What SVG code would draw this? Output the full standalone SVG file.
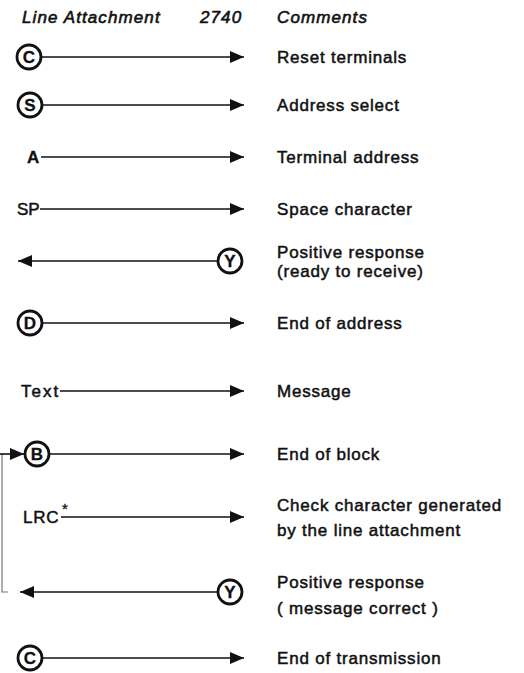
<svg xmlns="http://www.w3.org/2000/svg" width="524" height="673" viewBox="0 0 524 673">
  <defs>
    <marker id="arrow" viewBox="0 0 14 12" refX="14" refY="6" markerWidth="14" markerHeight="12" markerUnits="userSpaceOnUse" orient="auto">
      <path d="M0,0 L14,6 L0,12 Z" fill="#111"/>
    </marker>
    <style>
      text { font-family: "Liberation Sans", Arial, sans-serif; font-size: 17px; fill: #111; stroke: #111; stroke-width: 0.5; letter-spacing: 0.8px; }
      .hdr { font-style: italic; letter-spacing: 1.1px; stroke-width: 0.6; }
      .sym { font-weight: bold; text-anchor: middle; letter-spacing: 0; stroke-width: 0.3; font-size: 17px; }
      .ring { fill: #fff; stroke: #111; stroke-width: 2.8; }
      .flow { stroke: #111; stroke-width: 1.6; fill: none; marker-end: url(#arrow); }
      .loop { stroke: #777; stroke-width: 1.2; fill: none; }
    </style>
  </defs>

  <!-- column headings -->
  <g id="headings">
    <text class="hdr" x="22" y="23">Line Attachment</text>
    <text class="hdr" x="200" y="23">2740</text>
    <text class="hdr" x="277" y="23">Comments</text>
  </g>

  <!-- connectors -->
  <g id="connectors">
    <line class="flow" x1="42" y1="57" x2="244" y2="57"/>
    <line class="flow" x1="43" y1="105" x2="244" y2="105"/>
    <line class="flow" x1="41" y1="157" x2="244" y2="157"/>
    <line class="flow" x1="40" y1="209" x2="244" y2="209"/>
    <line class="flow" x1="217" y1="261" x2="18" y2="261"/>
    <line class="flow" x1="42" y1="323" x2="244" y2="323"/>
    <line class="flow" x1="60" y1="391" x2="244" y2="391"/>
    <line class="flow" x1="50" y1="454" x2="244" y2="454"/>
    <line class="flow" x1="61" y1="517" x2="244" y2="517"/>
    <line class="flow" x1="217" y1="592" x2="20" y2="592"/>
    <line class="flow" x1="42" y1="658" x2="244" y2="658"/>
    <!-- retransmission loop back to the block start -->
    <polyline class="loop" points="8,592 2,592 2,454"/>
    <line class="flow" x1="0" y1="454" x2="24" y2="454"/>
  </g>

  <g id="reset">
    <circle class="ring" cx="29" cy="57" r="12"/>
    <text class="sym" x="29" y="63">C</text>
    <text x="277" y="63">Reset terminals</text>
  </g>

  <g id="select">
    <circle class="ring" cx="30" cy="105" r="12"/>
    <text class="sym" x="30" y="111">S</text>
    <text x="277" y="111">Address select</text>
  </g>

  <g id="address">
    <text x="27" y="163" style="font-weight:bold;letter-spacing:0;stroke-width:0.3">A</text>
    <text x="277" y="163">Terminal address</text>
  </g>

  <g id="space">
    <text x="17" y="215" style="letter-spacing:0">SP</text>
    <text x="277" y="215">Space character</text>
  </g>

  <g id="ready">
    <circle class="ring" cx="230" cy="261" r="12"/>
    <text class="sym" x="230" y="267">Y</text>
    <text x="277" y="258">Positive response</text>
    <text x="277" y="277">(ready to receive)</text>
  </g>

  <g id="end-address">
    <circle class="ring" cx="30" cy="323" r="12"/>
    <text class="sym" x="30" y="329">D</text>
    <text x="277" y="329">End of address</text>
  </g>

  <g id="message">
    <text x="21" y="397" style="letter-spacing:2px">Text</text>
    <text x="277" y="397">Message</text>
  </g>

  <g id="end-block">
    <circle class="ring" cx="37" cy="454" r="12"/>
    <text class="sym" x="37" y="460">B</text>
    <text x="277" y="460">End of block</text>
  </g>

  <g id="check">
    <text x="23" y="523">LRC</text>
    <text x="62" y="514" style="font-size:15px;stroke-width:0.3;letter-spacing:0">*</text>
    <text x="277" y="511">Check character generated</text>
    <text x="277" y="536">by the line attachment</text>
  </g>

  <g id="correct">
    <circle class="ring" cx="230" cy="592" r="12"/>
    <text class="sym" x="230" y="598">Y</text>
    <text x="277" y="588">Positive response</text>
    <text x="277" y="614">( message correct )</text>
  </g>

  <g id="end-transmission">
    <circle class="ring" cx="30" cy="658" r="12"/>
    <text class="sym" x="30" y="664">C</text>
    <text x="277" y="664">End of transmission</text>
  </g>
</svg>
